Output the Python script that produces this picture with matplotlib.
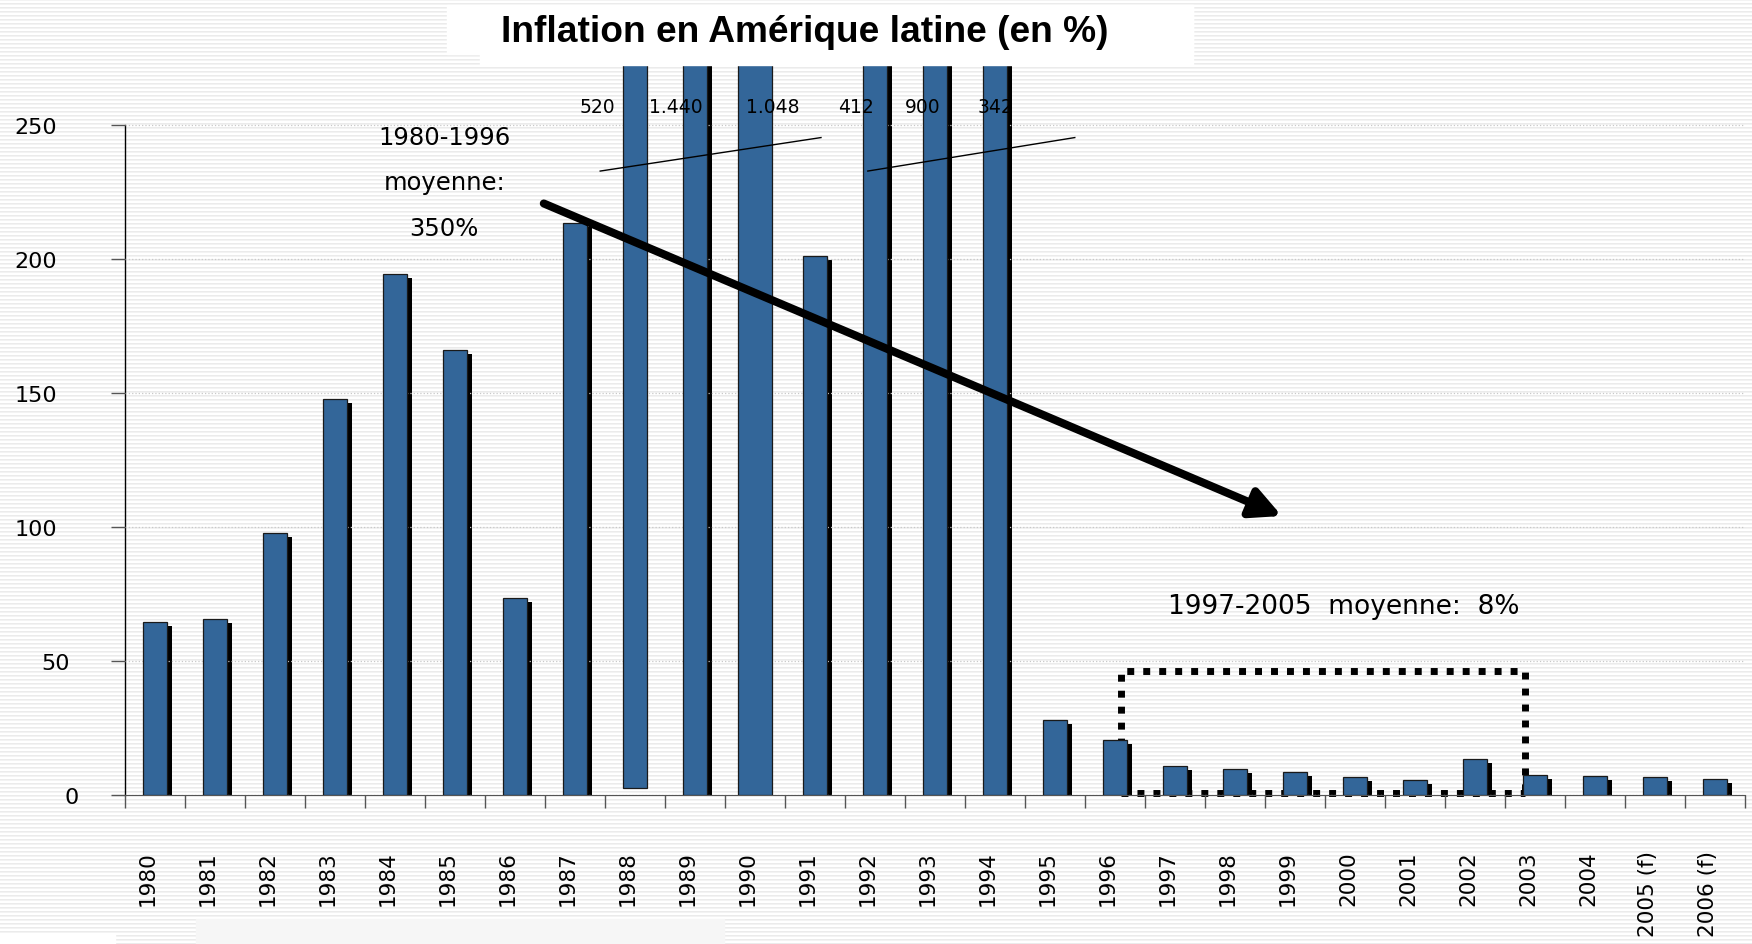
import numpy as np
import matplotlib
matplotlib.use("Agg")
import matplotlib.pyplot as plt
from matplotlib.patches import Rectangle
from matplotlib.transforms import ScaledTranslation

# Data
years = ["1980", "1981", "1982", "1983", "1984", "1985", "1986", "1987", "1988",
         "1989", "1990", "1991", "1992", "1993", "1994", "1995", "1996", "1997",
         "1998", "1999", "2000", "2001", "2002", "2003", "2004", "2005 (f)", "2006 (f)"]
inflation = [64.3, 65.6, 97.6, 147.7, 194.4, 166.0, 73.4, 213.3, 520.0,
             1440.0, 1048.0, 200.9, 412.0, 900.0, 342.0, 27.8, 20.4, 10.8,
             9.6, 8.6, 6.6, 5.6, 13.3, 7.2, 6.9, 6.6, 5.9]
# the 1988 bar floats slightly above the baseline in the original
bar_bottom = [0] * 27
bar_bottom[8] = 2.4
# off-scale bars carry their value as text
big_years = ["1988", "1989", "1990", "1992", "1993", "1994"]
big_labels = ["520", "1.440", "1.048", "412", "900", "342"]
y_ticks = [0, 50, 100, 150, 200, 250]

avg_early = "1980-1996\n\nmoyenne:\n\n350%"
avg_late = "1997-2005  moyenne:  8%"
title = "Inflation en Amérique latine (en %)"

# style
W, H = 1752, 945
BLUE = "#336699"
widths = [0.58 if y == "1990" else 0.4 for y in years]
shadow = [y not in ("1988", "1990") for y in years]
label_dx = [-0.62, -0.32, 0.3, -0.32, -0.2, 0.0]

plt.rcParams["font.family"] = ["DejaVu Sans"]

fig = plt.figure(figsize=(W / 100, H / 100), dpi=100)

# striped background
stripe = np.array([0.92, 0.95, 1.0, 1.0])
bg = np.tile(stripe, H // 4 + 1)[:H]
bg = np.repeat(bg[:, None], W, axis=1)
fig.figimage(bg, xo=0, yo=0, cmap="gray", vmin=0, vmax=1, zorder=-10)


def fx(px):
    return px / W


def fy(py):
    return 1 - py / H


zero_px, top_px = 795.7, 66.0
px_per_unit = (795.7 - 125.7) / 250
ax = fig.add_axes([fx(125), fy(zero_px), 1620 / W, (zero_px - top_px) / H])
ax.set_facecolor("none")
ax.set_zorder(1)

x = np.arange(len(years))
vals = np.array(inflation)
sx = 4.5 / 60
sy = 4 / px_per_unit
for i in range(len(years)):
    if shadow[i]:
        ax.bar(x[i] + sx, vals[i] - sy, widths[i], color="black", zorder=2)
    ax.bar(x[i], vals[i] - bar_bottom[i], widths[i], bottom=bar_bottom[i],
           color=BLUE, edgecolor="#1a1a1a", linewidth=0.9, zorder=3)

ax.set_xlim(-0.5, len(years) - 0.5)
ax.set_ylim(0, (zero_px - top_px) / px_per_unit)

# axes / ticks
for s in ["top", "right"]:
    ax.spines[s].set_visible(False)
ax.spines["left"].set_bounds(0, 250)
ax.spines["left"].set_linewidth(1.0)
ax.spines["bottom"].set_color("#555555")
ax.set_yticks(y_ticks)
ax.set_yticklabels([str(v) for v in y_ticks], fontsize=16)
ax.tick_params(axis="y", length=10, width=1, color="#555555", pad=39)
shift = {3: 0, 2: 13, 1: 22}
for lab in ax.get_yticklabels():
    dx = shift[len(lab.get_text())] / 100
    lab.set_transform(lab.get_transform() + ScaledTranslation(dx, 0, fig.dpi_scale_trans))
ax.set_xticks(np.arange(len(years) + 1) - 0.5)
ax.set_xticklabels([])
ax.tick_params(axis="x", which="major", length=9, width=1, color="#555555")
ax.set_xticks(x, minor=True)
ax.set_xticklabels(years, minor=True, rotation=90, fontsize=15.5)
ax.tick_params(axis="x", which="minor", length=0, pad=40)
for lab in ax.get_xticklabels(minor=True):
    lab.set_transform(lab.get_transform() + ScaledTranslation(-0.07, 0, fig.dpi_scale_trans))
ax.yaxis.grid(True, ls=":", color="#c8c8c8", lw=0.9, zorder=4)
ax.set_axisbelow(False)

# labels of the off-scale bars
for yr, lab, dx in zip(big_years, big_labels, label_dx):
    i = years.index(yr)
    ax.text(x[i] + dx, 256.8, lab, ha="center", va="center", fontsize=13.5, zorder=5)

# break marks
ax.plot([7.42, 11.1], [232.7, 245.2], color="black", lw=1, zorder=5)
ax.plot([11.88, 15.33], [232.7, 245.2], color="black", lw=1, zorder=5)

# trend arrow
ax.annotate("", xy=(18.78, 104.0), xytext=(6.48, 220.6),
            arrowprops=dict(arrowstyle="-|>", lw=5.8, color="black",
                            mutation_scale=45, shrinkA=0, shrinkB=0), zorder=6)

# dotted box for 1997-2005
ax.plot([16.1, 16.1, 22.83, 22.83], [0.8, 46.2, 46.2, 0.8], color="black",
        lw=5, ls=(0, (1, 1.3)), zorder=1, clip_on=False)
ax.plot([16.1, 22.83], [0.8, 0.8], color="black", lw=5, ls=(0, (1, 1.3)),
        zorder=1, clip_on=False)

ax.text(4.82, 228.5, avg_early, ha="center", va="center", fontsize=17.5,
        linespacing=0.93, zorder=5)
ax.text(19.82, 70.5, avg_late, ha="center", va="center", fontsize=19, zorder=5)

# title panel
fig.add_artist(Rectangle((fx(447), fy(55)), fx(1193) - fx(447), 49 / H,
                         transform=fig.transFigure, color="white", zorder=5))
fig.add_artist(Rectangle((fx(480), fy(66)), fx(1193) - fx(480), 60 / H,
                         transform=fig.transFigure, color="white", zorder=5))
fig.text(fx(805), fy(32), title, ha="center", va="center", fontsize=26.7,
         fontweight="bold", family="Liberation Sans", zorder=6)

# boxes at the bottom edge
fig.add_artist(Rectangle((fx(196), 0), fx(724) - fx(196), 25 / H,
                         transform=fig.transFigure, color="#f6f6f6", zorder=5))
fig.add_artist(Rectangle((0, 0), fx(115), 10 / H,
                         transform=fig.transFigure, color="white", zorder=5))

fig.savefig("out.png", dpi=100)
